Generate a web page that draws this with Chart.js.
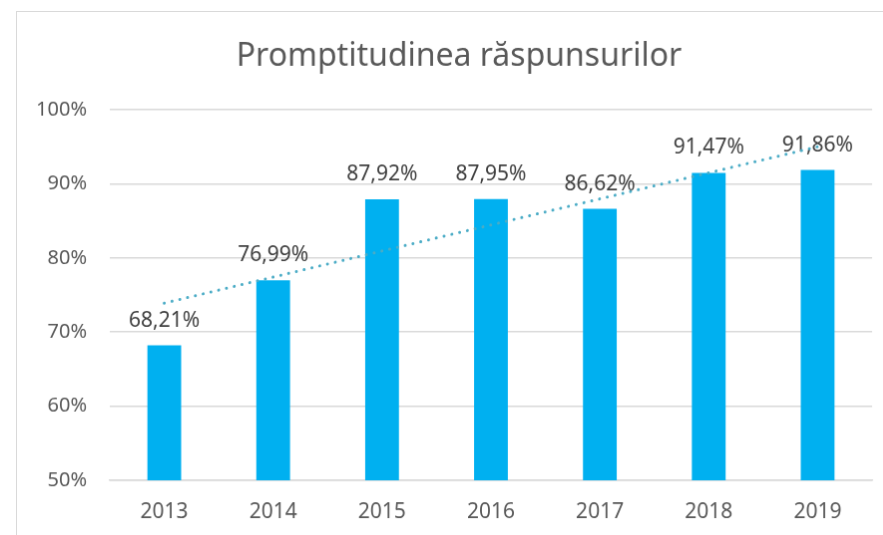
<!DOCTYPE html>
<html>
<head>
<meta charset="utf-8">
<script src="https://cdn.jsdelivr.net/npm/chart.js@4/dist/chart.umd.min.js"></script>
<style>
  html, body { margin: 0; padding: 0; background: #fff; overflow: hidden; }
  #chart { position: absolute; left: 16px; top: 11px; border: 1px solid #d9d9d9; }
</style>
</head>
<body>
<canvas id="chart" width="890" height="540"></canvas>
<script>
// date
const ani = ['2013', '2014', '2015', '2016', '2017', '2018', '2019'];
const promptitudine = [68.21, 76.99, 87.92, 87.95, 86.62, 91.47, 91.86];
// linia de tendinta: capetele
const tendinta = [73.9, null, null, null, null, null, 95.0];
const tickuriY = [50, 60, 70, 80, 90, 100];
const titlu = 'Promptitudinea răspunsurilor';

const FONT = "'Noto Sans', 'Open Sans', sans-serif";

function formatProcent(v) {
    return v.toFixed(2).replace('.', ',') + '%';
}

// etichete deasupra barelor
const eticheteBare = {
    id: 'eticheteBare',
    afterDatasetDraw(chart, args) {
        if (args.meta.type !== 'bar') return;
        const ctx = chart.ctx;
        ctx.save();
        ctx.font = '21px ' + FONT;
        ctx.fillStyle = '#404040';
        ctx.textAlign = 'center';
        ctx.textBaseline = 'middle';
        args.meta.data.forEach((bar, i) => {
            ctx.fillText(formatProcent(promptitudine[i]), bar.x, bar.y - 25);
        });
        ctx.restore();
    }
};

// titlul, centrat pe tot cadrul (care iese din fereastra la dreapta)
const titluGrafic = {
    id: 'titluGrafic',
    afterDraw(chart) {
        const ctx = chart.ctx;
        ctx.save();
        ctx.font = '32px ' + FONT;
        ctx.fillStyle = '#595959';
        ctx.textAlign = 'center';
        ctx.textBaseline = 'middle';
        ctx.fillText(titlu, 443, 45);
        ctx.restore();
    }
};

new Chart(document.getElementById('chart'), {
    type: 'bar',
    data: {
        labels: ani,
        datasets: [
            {
                type: 'line',
                data: tendinta,
                spanGaps: true,
                borderColor: '#4bacc6',
                borderWidth: 3,
                borderDash: [0.01, 8],
                borderCapStyle: 'round',
                pointRadius: 0,
                fill: false,
                order: 0
            },
            {
                data: promptitudine,
                backgroundColor: '#00b0f0',
                barPercentage: 0.31,
                categoryPercentage: 1,
                order: 1
            }
        ]
    },
    plugins: [eticheteBare, titluGrafic],
    options: {
        responsive: false,
        animation: false,
        layout: { padding: { left: 0, right: 33, top: 98, bottom: 0 } },
        plugins: {
            legend: { display: false },
            tooltip: { enabled: false },
            title: { display: false }
        },
        scales: {
            y: {
                min: 50,
                max: 100,
                afterFit(scale) { scale.width = 93; },
                afterBuildTicks(scale) { scale.ticks = tickuriY.map(v => ({ value: v })); },
                ticks: {
                    color: '#595959',
                    padding: 23,
                    font: { size: 20, family: FONT },
                    callback: v => v + '%'
                },
                grid: { color: '#d9d9d9', lineWidth: 1.5, drawTicks: false },
                border: { display: false }
            },
            x: {
                afterFit(scale) { scale.height = 70; },
                ticks: {
                    color: '#595959',
                    padding: 19,
                    font: { size: 21, family: FONT }
                },
                grid: { display: false, drawTicks: false },
                border: { color: '#d9d9d9', width: 1.5 }
            }
        }
    }
});
</script>
</body>
</html>
